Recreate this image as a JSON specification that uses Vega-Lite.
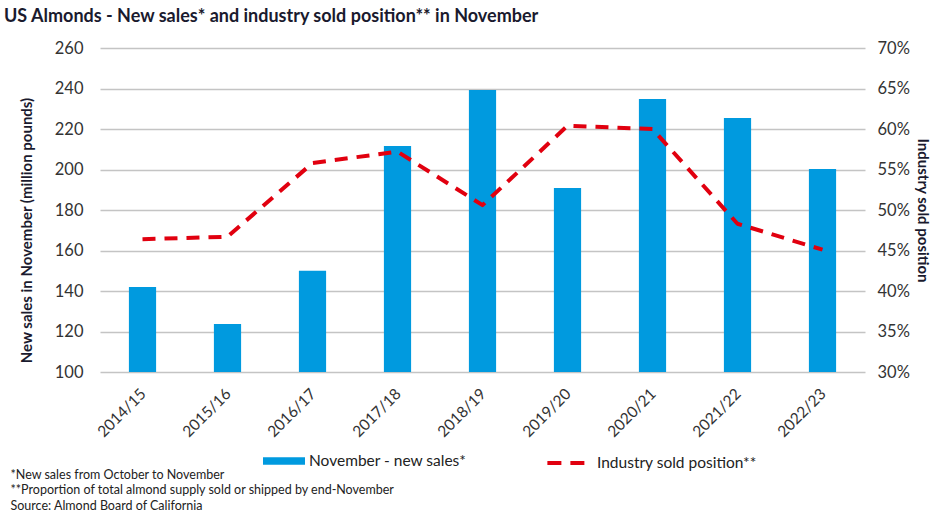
{
  "$schema": "https://vega.github.io/schema/vega-lite/v6.json",
  "autosize": {"type": "none"},
  "width": 765,
  "height": 324,
  "padding": {"left": 100, "top": 48, "right": 73, "bottom": 146},
  "background": "white",
  "config": {
    "font": "Lato",
    "view": {"stroke": null}
  },
  "title": {
    "text": "US Almonds - New sales* and industry sold position** in November",
    "anchor": "start",
    "frame": "group",
    "dx": -96,
    "dy": -10,
    "fontSize": 18,
    "fontWeight": "bold",
    "color": "#1a1a2e"
  },
  "data": {
    "values": [
      {"season": "2014/15", "sales": 142, "sold": 0.464},
      {"season": "2015/16", "sales": 123.7, "sold": 0.467},
      {"season": "2016/17", "sales": 150, "sold": 0.558},
      {"season": "2017/18", "sales": 211.6, "sold": 0.572},
      {"season": "2018/19", "sales": 239.3, "sold": 0.506},
      {"season": "2019/20", "sales": 190.9, "sold": 0.604},
      {"season": "2020/21", "sales": 234.8, "sold": 0.600},
      {"season": "2021/22", "sales": 225.4, "sold": 0.483},
      {"season": "2022/23", "sales": 200.2, "sold": 0.451}
    ]
  },
  "encoding": {
    "x": {
      "field": "season",
      "type": "ordinal",
      "sort": null,
      "scale": {"paddingInner": 0.68, "paddingOuter": 0.34},
      "axis": {
        "labelAngle": -45,
        "labelAlign": "right",
        "labelBaseline": "top",
        "labelFontSize": 15.5,
        "labelColor": "#333333",
        "labelPadding": 14,
        "labelOffset": -4,
        "ticks": false,
        "domain": false,
        "title": [
          "*New sales from October to November",
          "**Proportion of total almond supply sold or shipped by end-November",
          "Source: Almond Board of California"
        ],
        "titleFontSize": 12.5,
        "titleFontWeight": "normal",
        "titleColor": "#222222",
        "titleAnchor": "start",
        "titleAlign": "left",
        "titleBaseline": "alphabetic",
        "titleLineHeight": 15.5,
        "titleX": -90,
        "titleY": 106
      }
    }
  },
  "layer": [
    {
      "mark": {"type": "bar", "color": "#009ADF", "clip": true},
      "encoding": {
        "y": {
          "field": "sales",
          "type": "quantitative",
          "scale": {"domain": [100, 260], "nice": false, "zero": false},
          "axis": {
            "values": [100, 120, 140, 160, 180, 200, 220, 240, 260],
            "title": "New sales in November (million pounds)",
            "titleFontSize": 15,
            "titleFontWeight": "bold",
            "titleColor": "#1a1a2e",
            "titlePadding": 20,
            "titleY": 182,
            "labelFontSize": 16.5,
            "labelColor": "#333333",
            "labelPadding": 17,
            "ticks": false,
            "domain": false,
            "grid": true,
            "gridColor": "#c4c4c4",
            "gridWidth": 1.3,
            "gridOpacity": 1
          }
        },
        "fill": {
          "datum": "November - new sales*",
          "type": "nominal",
          "scale": {"range": ["#009ADF"]},
          "legend": {
            "orient": "none",
            "legendX": 163,
            "legendY": 392,
            "title": null,
            "symbolType": "M-1,-0.18H1V0.18H-1Z",
            "symbolSize": 1764,
            "symbolStrokeWidth": 0,
            "labelFontSize": 15.5,
            "labelColor": "#222222",
            "labelOffset": 4
          }
        }
      }
    },
    {
      "mark": {
        "type": "line",
        "color": "#E1000F",
        "strokeWidth": 4,
        "strokeDash": [13, 9],
        "strokeJoin": "round"
      },
      "encoding": {
        "y": {
          "field": "sold",
          "type": "quantitative",
          "scale": {"domain": [0.3, 0.7], "nice": false, "zero": false},
          "axis": {
            "orient": "right",
            "values": [0.3, 0.35, 0.4, 0.45, 0.5, 0.55, 0.6, 0.65, 0.7],
            "format": ".0%",
            "title": "Industry sold position",
            "titleFontSize": 15,
            "titleFontWeight": "bold",
            "titleColor": "#1a1a2e",
            "titlePadding": 5,
            "labelFontSize": 16.5,
            "labelColor": "#333333",
            "labelPadding": 12,
            "ticks": false,
            "domain": false,
            "grid": false
          }
        },
        "stroke": {
          "datum": "Industry sold position**",
          "type": "nominal",
          "scale": {"range": ["#E1000F"]},
          "legend": {
            "orient": "none",
            "legendX": 445,
            "legendY": 392,
            "title": null,
            "symbolType": "stroke",
            "symbolSize": 1700,
            "symbolStrokeWidth": 4,
            "symbolDash": [14, 9],
            "labelFontSize": 15.5,
            "labelColor": "#222222",
            "labelOffset": 6
          }
        }
      }
    }
  ],
  "resolve": {"scale": {"y": "independent", "fill": "independent", "stroke": "independent"}}
}
